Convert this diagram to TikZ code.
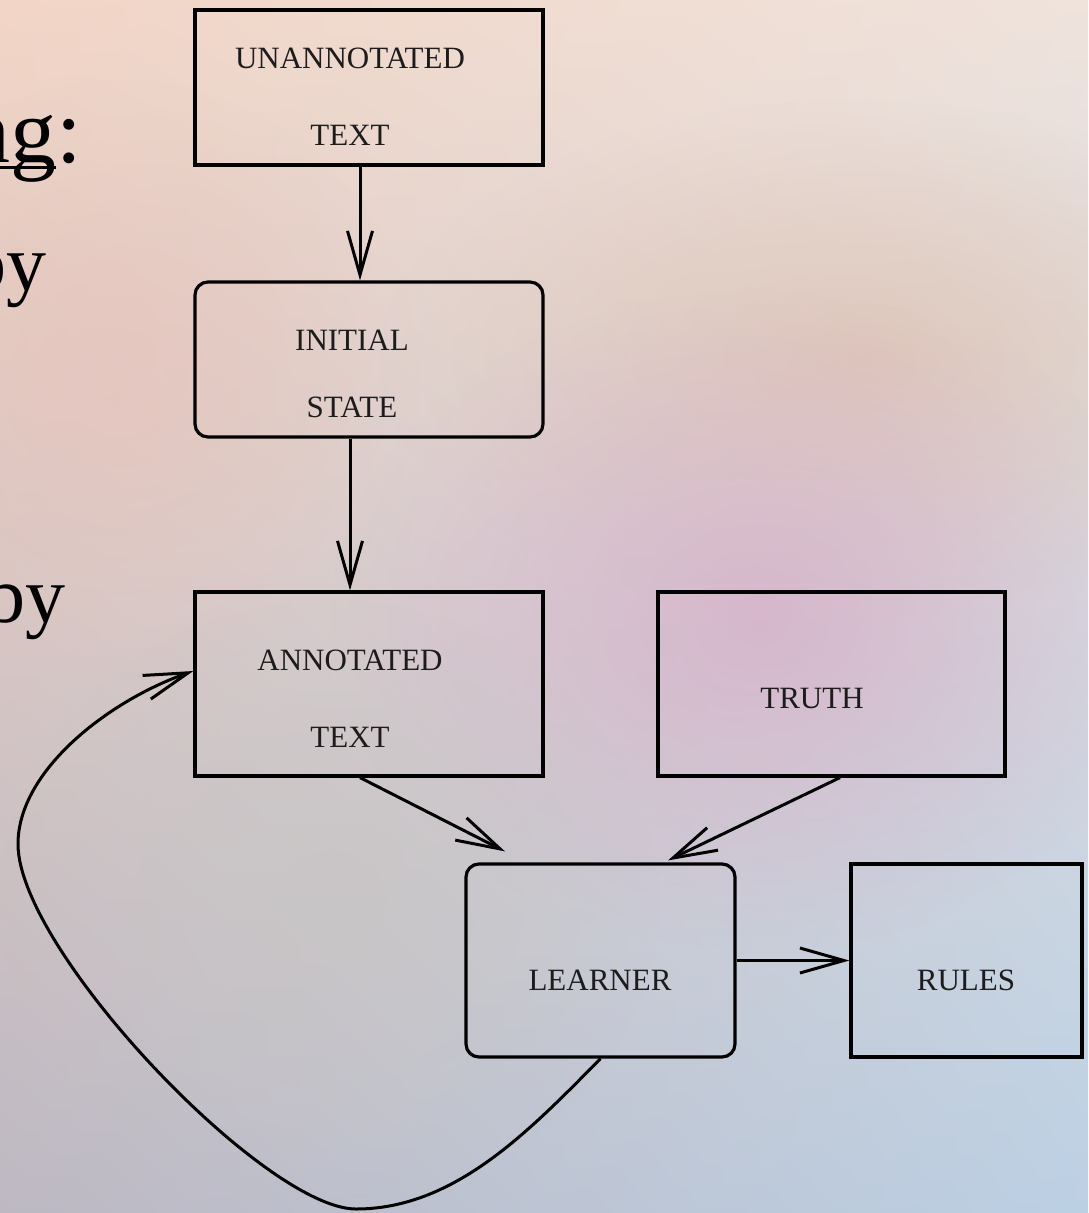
\documentclass[tikz,border=0pt]{standalone}
\usepackage{fontspec}
\setmainfont{Liberation Serif}
\usetikzlibrary{arrows.meta,fadings,shadings}

\definecolor{bgUL}{HTML}{F2D5C6}
\definecolor{bgUR}{HTML}{EFE3DC}
\definecolor{bgLL}{HTML}{BDB8C2}
\definecolor{bgLR}{HTML}{BCD0E4}
\definecolor{tan}{HTML}{DFC3B3}
\definecolor{blush}{HTML}{D6B2CA}
\definecolor{peach}{HTML}{E6C4BC}
\definecolor{haze}{HTML}{C8C5C2}
\definecolor{ink}{HTML}{1C1C1C}

\tikzfading[name=softblob, inner color=transparent!0, outer color=transparent!100]

\begin{document}
\begin{tikzpicture}[x=1pt,y=-1pt,
  sqbox/.style={draw=black, line width=3.2pt, inner sep=0pt},
  rbox/.style={sqbox, rounded corners=13pt},
  lbl/.style={font=\fontsize{31}{77}\selectfont, text=ink, align=center, inner sep=0pt},
  slide/.style={font=\fontsize{#1}{#1}\selectfont, text=black, anchor=base east, inner sep=0pt},
  arr/.style={line width=3pt, -{Straight Barb[length=44pt, width=25pt]}}]

% page and background
\useasboundingbox (0,0) rectangle (1088,1213);
\clip (0,0) rectangle (1088,1213);
\shade[upper left=bgUL, upper right=bgUR, lower left=bgLL, lower right=bgLR]
  (0,0) rectangle (1088,1213);
\fill[tan, fill opacity=0.8, path fading=softblob] (860,360) ellipse (480pt and 260pt);
\fill[peach, fill opacity=0.7, path fading=softblob] (120,380) ellipse (300pt and 300pt);
\fill[blush, fill opacity=0.85, path fading=softblob] (760,620) ellipse (430pt and 330pt);
\fill[haze, fill opacity=0.6, path fading=softblob] (330,900) ellipse (330pt and 300pt);

% slide text running in from the left
\node[slide=92] (ng) at (82,162)
  {\setbox0\hbox{ng}\rlap{\rule[-7pt]{\wd0}{3pt}}ng:};
\node[slide=80] (by1) at (47,290) {by};
\node[slide=80] (by2) at (66,622) {by};

% boxes
\node[sqbox, minimum width=348pt, minimum height=155pt] (u) at (369,87.5) {};
\node[lbl] (ut) at (350,96.5) {UNANNOTATED\\TEXT};

\node[rbox, minimum width=348pt, minimum height=155pt] (init) at (369,359.5) {};
\node[lbl] (it) at (352,373.5) {INITIAL\\[-10pt]STATE};

\node[sqbox, minimum width=348pt, minimum height=184pt] (ann) at (369,684) {};
\node[lbl] (at) at (350,698.5) {ANNOTATED\\TEXT};

\node[sqbox, minimum width=347pt, minimum height=184pt] (truth) at (831.5,684) {};
\node[lbl] (tt) at (812,698) {TRUTH};

\node[rbox, minimum width=269pt, minimum height=193pt] (learner) at (600.5,960.5) {};
\node[lbl] (lt) at (600,980) {LEARNER};

\node[sqbox, minimum width=231pt, minimum height=193pt] (rules) at (966.5,960.5) {};
\node[lbl] (rt) at (966,980) {RULES};

% connectors
\draw[arr] ([xshift=-9pt]u.south) -- ([xshift=-9pt]init.north);
\draw[arr] ([xshift=-19pt]init.south) -- ([xshift=-19pt]ann.north);
\draw[arr] ([xshift=-9pt]ann.south) -- ([xshift=-95.5pt,yshift=11pt]learner.north);
\draw[arr] ([xshift=8.5pt]truth.south) -- ([xshift=67.5pt,yshift=2pt]learner.north);
\draw[arr] (learner.east) -- (rules.west);

% feedback loop from the learner back to the annotated text
\coordinate (loopbot) at (356,1209);
\coordinate (loopleft) at (18,844);
\draw[arr] (learner.south) .. controls (530,1130) and (455,1209) .. (loopbot)
  .. controls (265,1209) and (18,950) .. (loopleft)
  .. controls (18,770) and (110,700) .. ([yshift=13pt]ann.west);
\end{tikzpicture}
\end{document}
